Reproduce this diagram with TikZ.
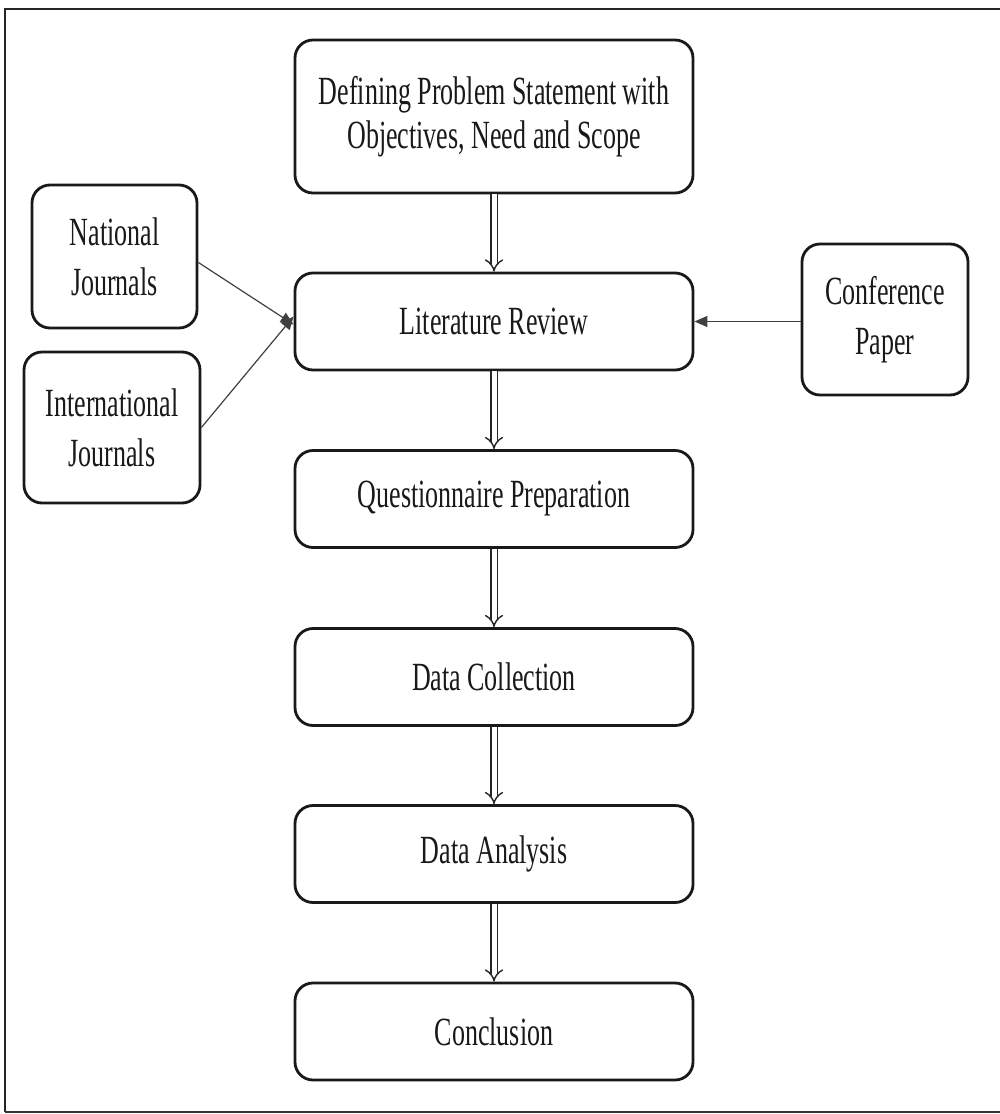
\documentclass[tikz,border=0pt]{standalone}
\usepackage{fontspec}
\usetikzlibrary{arrows.meta}
\newfontfamily\condserif[FakeStretch=0.65]{Liberation Serif}
\begin{document}
\begin{tikzpicture}[x=1pt,y=-1pt,
  box/.style={draw=black!90, line width=2.8pt, rounded corners=18pt, fill=white,
    inner sep=0pt, align=center, text=black!90,
    font=\condserif\fontsize{40}{44}\selectfont},
  mainbox/.style={box, minimum width=398pt, minimum height=97pt},
  sidebox/.style={box, font=\condserif\fontsize{40}{50}\selectfont},
  dblarrow/.style={draw=black!85, line width=1.4pt, double=white, double distance=5pt,
    -{Implies[length=9pt]}},
  feed/.style={draw=black!75, line width=1.2pt, -{Triangle[length=13pt,width=11pt]}}]
\useasboundingbox (0,0) rectangle (999,1114);
\fill[white] (0,0) rectangle (999,1114);
\draw[black!85, line width=2pt] (5,1112) -- (5,9) -- (1003,9);
\draw[black!80, line width=1.2pt] (5,1112) -- (1003,1112);

\node[mainbox, minimum height=153pt] (def) at (494,116.5)
  {Defining Problem Statement with\\Objectives, Need and Scope};
\node[mainbox] (lit) at (494,321.5) {Literature Review};
\node[mainbox] (quest) at (494,499) {Questionnaire Preparation};
\node[mainbox] (coll) at (494,677) {Data Collection};
\node[mainbox] (anal) at (494,854) {Data Analysis};
\node[mainbox] (concl) at (494,1031.5) {Conclusion};

\node[sidebox, minimum width=165pt, minimum height=143pt] (nat) at (114.5,256.5) {National\\Journals};
\node[sidebox, minimum width=176pt, minimum height=151pt] (intl) at (112,427.5) {International\\Journals};
\node[sidebox, minimum width=166pt, minimum height=151pt] (conf) at (885,319.5) {Conference\\Paper};

\draw[dblarrow] (def.south) -- (lit.north);
\draw[dblarrow] (lit.south) -- (quest.north);
\draw[dblarrow] (quest.south) -- (coll.north);
\draw[dblarrow] (coll.south) -- (anal.north);
\draw[dblarrow] (anal.south) -- (concl.north);

\draw[feed] ([yshift=-6pt]nat.east) -- ([yshift=-3pt]lit.west);
\draw[feed] (intl.east) -- ([yshift=5pt]lit.west);
\draw[feed] (conf.west |- lit.east) -- (lit.east);
\end{tikzpicture}
\end{document}
